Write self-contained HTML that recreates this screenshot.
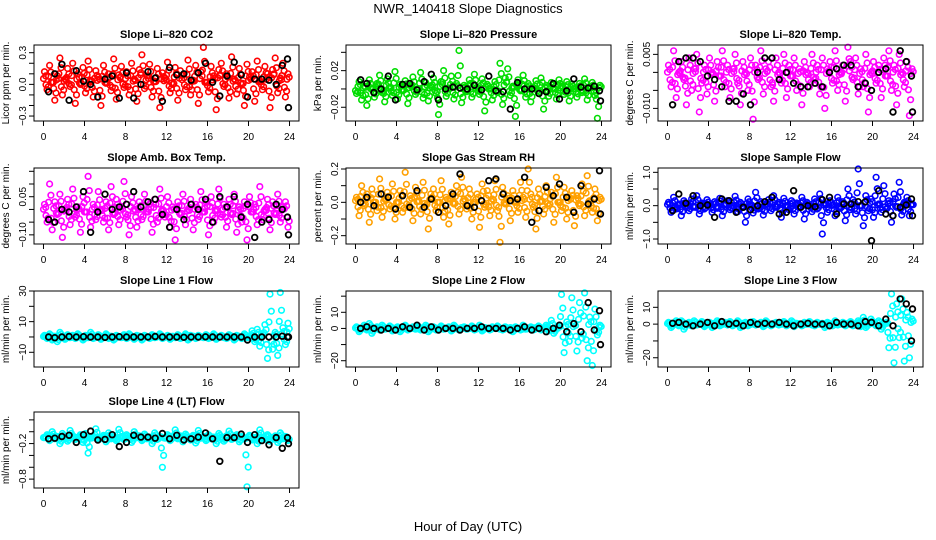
<!DOCTYPE html>
<html><head><meta charset="utf-8"><style>
html,body{margin:0;padding:0;background:#fff;}
svg{display:block;font-family:"Liberation Sans",sans-serif;}
</style></head><body>
<svg id="chart" width="936" height="540" viewBox="0 0 936 540">
<text x="468" y="13" text-anchor="middle" font-size="13">NWR_140418  Slope Diagnostics</text>
<text x="468" y="531" text-anchor="middle" font-size="13">Hour of Day (UTC)</text>
</svg>
<script>
const hours=[0.1,0.35,0.6,0.85,1.1,1.35,1.6,1.85,2.1,2.35,2.6,2.85,3.1,3.35,3.6,3.85,4.1,4.35,4.6,4.85,5.1,5.35,5.6,5.85,6.1,6.35,6.6,6.85,7.1,7.35,7.6,7.85,8.1,8.35,8.6,8.85,9.1,9.35,9.6,9.85,10.1,10.35,10.6,10.85,11.1,11.35,11.6,11.85,12.1,12.35,12.6,12.85,13.1,13.35,13.6,13.85,14.1,14.35,14.6,14.85,15.1,15.35,15.6,15.85,16.1,16.35,16.6,16.85,17.1,17.35,17.6,17.85,18.1,18.35,18.6,18.85,19.1,19.35,19.6,19.85,20.1,20.35,20.6,20.85,21.1,21.35,21.6,21.85,22.1,22.35,22.6,22.85,23.1,23.35,23.6,23.85];
const blackHours=[0.5,1.1,1.8,2.5,3.2,3.9,4.6,5.3,6.0,6.7,7.4,8.1,8.8,9.5,10.2,10.9,11.6,12.3,13.0,13.7,14.4,15.1,15.8,16.5,17.2,17.9,18.6,19.3,19.9,20.6,21.3,22.0,22.7,23.3,23.8,23.9];
const xTicks=[0,4,8,12,16,20,24];

const co2Vals=[0.12,-0.05,0.18,0.02,-0.15,0.08,0.25,-0.1,0.05,0.15,-0.02,0.2,-0.18,0.1,0.0,0.16,-0.08,0.22,0.04,-0.12,0.13,0.07,-0.2,0.18,0.01,0.1,-0.06,0.24,-0.14,0.09,0.17,-0.03,0.12,-0.1,0.2,0.05,-0.16,0.14,0.28,-0.04,0.08,0.19,-0.12,0.03,0.15,-0.22,0.11,0.06,0.21,-0.08,0.0,0.16,-0.15,0.13,0.09,-0.05,0.23,-0.1,0.04,0.18,-0.18,0.12,0.35,0.02,-0.07,0.17,0.08,-0.24,0.14,0.2,-0.02,0.1,-0.13,0.26,0.05,-0.09,0.15,0.0,-0.2,0.19,0.07,0.12,-0.16,0.22,0.03,-0.05,0.17,0.1,-0.22,0.14,0.25,-0.08,0.06,0.2,-0.12,0.1];
const co2Black=[-0.07,0.1,0.19,-0.15,0.13,0.03,0.0,-0.12,0.05,0.08,-0.13,0.11,-0.13,0.0,0.12,0.06,-0.16,0.16,0.09,0.1,0.04,0.11,0.2,0.02,-0.11,0.08,0.21,0.09,-0.12,0.05,0.05,0.04,0.0,0.18,0.24,-0.22];
const presVals=[-0.005,0.008,-0.012,0.003,-0.018,0.01,0.0,-0.009,0.006,0.015,-0.004,-0.014,0.011,0.002,-0.007,0.019,-0.011,0.005,-0.002,0.009,-0.016,0.004,0.013,-0.006,0.0,0.018,-0.01,0.007,-0.013,0.003,0.012,-0.005,-0.028,0.008,0.02,-0.008,0.001,0.014,-0.011,0.006,0.042,-0.015,0.004,-0.003,0.01,-0.009,0.016,0.002,-0.006,0.011,-0.024,0.005,0.0,-0.012,0.008,-0.004,0.028,-0.017,0.012,0.022,-0.007,0.003,-0.03,0.01,-0.002,0.015,-0.009,0.006,-0.014,0.001,0.009,-0.005,0.012,-0.022,0.004,-0.008,0.007,0.0,-0.011,0.01,0.003,-0.006,0.008,-0.013,0.005,0.0,-0.009,0.006,-0.004,0.011,-0.012,0.002,0.007,-0.007,-0.032,0.004];
const presBlack=[0.01,0.006,-0.004,0.0,0.014,-0.012,0.005,0.006,-0.001,0.008,0.016,-0.012,0.0,0.002,0.001,0.0,0.004,-0.001,0.014,-0.002,-0.003,-0.022,0.007,0.0,0.0,-0.005,-0.003,0.006,-0.011,-0.002,0.011,0.002,0.001,0.003,-0.002,-0.013];
const tempVals=[0.002,-0.004,0.006,-0.007,0.0,0.003,-0.002,-0.009,0.004,-0.005,0.001,0.005,-0.011,-0.003,0.002,-0.006,0.004,0.0,-0.008,0.003,-0.001,0.006,-0.004,0.002,-0.007,0.001,0.005,-0.003,-0.009,0.003,0.0,-0.005,0.004,-0.013,0.002,-0.002,0.006,-0.006,0.001,0.003,-0.004,-0.008,0.004,0.0,-0.003,0.005,-0.007,0.002,-0.001,0.004,-0.005,0.001,-0.009,0.003,0.0,-0.004,0.005,-0.002,0.002,-0.006,0.004,-0.010,0.001,0.003,-0.003,0.006,-0.005,0.0,0.002,-0.008,0.007,0.003,-0.002,0.004,-0.006,0.001,-0.004,0.005,-0.011,0.0,0.003,-0.003,0.002,-0.007,0.004,-0.001,0.006,-0.005,0.002,-0.009,0.005,0.0,-0.004,0.003,-0.012,0.001];
const tempBlack=[-0.009,0.003,0.004,0.004,0.003,-0.001,-0.002,-0.004,-0.008,-0.008,-0.006,-0.009,0.0,0.004,0.004,-0.002,0.0,-0.003,-0.004,-0.004,-0.003,-0.004,0.0,0.001,0.002,0.002,-0.004,-0.003,-0.005,0.0,0.001,-0.011,0.006,0.003,-0.001,-0.011];
const ambVals=[0.02,-0.05,0.1,-0.08,0.03,-0.02,0.06,-0.11,0.0,0.04,-0.06,0.08,-0.03,0.01,-0.09,0.05,-0.01,0.13,-0.07,0.02,-0.04,0.07,0.0,-0.05,0.03,-0.08,0.09,-0.02,0.04,-0.06,0.01,0.11,-0.03,-0.1,0.05,0.0,-0.07,0.03,-0.04,0.06,-0.01,0.02,-0.09,0.04,-0.05,0.08,0.0,-0.03,0.05,-0.07,0.01,-0.12,0.03,-0.02,0.06,-0.06,0.0,0.04,-0.08,0.02,-0.04,0.07,-0.01,0.03,-0.1,0.05,-0.05,0.0,0.08,-0.03,0.02,-0.07,0.04,-0.02,0.06,-0.09,0.01,-0.05,0.03,-0.12,0.05,-0.01,0.02,-0.06,0.09,-0.04,0.0,0.04,-0.08,0.03,-0.02,0.06,-0.05,0.01,0.03,-0.07];
const ambBlack=[-0.04,-0.05,0.0,-0.01,0.01,0.07,-0.09,-0.01,0.06,0.0,0.01,0.02,0.07,0.01,0.03,0.04,-0.02,-0.07,0.0,-0.04,0.02,0.0,0.04,-0.05,0.05,0.01,0.05,-0.03,0.02,-0.11,-0.05,-0.04,0.02,0.0,-0.03,-0.1];
const rhVals=[0.03,-0.08,0.1,-0.02,0.05,-0.12,0.08,0.0,-0.05,0.14,-0.09,0.02,0.06,-0.04,0.11,-0.1,0.0,0.07,-0.06,0.18,-0.03,0.04,-0.11,0.09,0.01,-0.07,0.12,-0.02,-0.16,0.05,0.08,-0.05,0.0,0.13,-0.09,0.03,-0.13,0.06,-0.01,0.1,-0.07,0.15,0.02,-0.04,0.08,-0.1,0.0,0.05,-0.15,0.11,-0.03,0.07,-0.08,0.02,0.13,-0.05,-0.24,0.09,-0.01,0.04,-0.11,0.07,0.0,-0.06,0.12,0.03,-0.09,0.2,0.05,-0.03,-0.16,0.08,0.01,-0.07,0.1,-0.02,0.06,-0.12,0.15,0.0,-0.05,0.09,-0.1,0.03,0.07,-0.14,0.04,-0.02,0.11,-0.08,0.16,0.01,-0.06,0.08,-0.11,0.03];
const rhBlack=[0.0,0.03,-0.02,0.05,0.03,-0.04,0.04,-0.03,0.07,-0.03,0.02,-0.06,-0.02,0.05,0.17,-0.02,-0.03,0.01,0.13,0.14,0.05,0.01,0.02,0.15,-0.12,-0.05,0.09,0.04,0.11,0.03,-0.06,0.1,-0.01,0.02,0.19,-0.07];
const sampVals=[0.1,-0.2,0.25,-0.1,0.05,-0.3,0.15,0.0,-0.15,0.2,-0.05,0.3,-0.25,0.08,-0.1,0.18,0.02,-0.2,0.12,-0.08,0.22,-0.3,0.05,0.15,-0.12,0.0,0.28,-0.18,0.1,-0.05,-0.5,0.2,0.03,-0.22,0.4,-0.1,0.12,-0.28,0.06,0.18,-0.15,0.3,-0.05,0.1,-0.35,0.22,0.0,-0.12,0.15,-0.25,0.08,-0.06,0.25,-0.4,0.1,0.0,-0.18,0.2,-0.1,0.35,-0.85,0.05,-0.2,0.15,0.02,-0.3,0.25,-0.08,0.12,-0.45,0.5,-0.12,0.18,-0.25,1.1,0.0,-0.6,0.3,-0.15,0.2,-0.35,0.85,0.05,-0.2,0.6,-0.1,0.15,-0.5,0.35,-0.05,0.7,-0.28,0.1,0.25,-0.3,0.05];
const sampBlack=[-0.15,0.35,0.07,0.3,0.0,0.02,-0.35,0.2,0.15,-0.2,-0.05,-0.12,0.0,0.12,0.25,-0.25,-0.2,0.45,-0.05,0.0,-0.03,0.18,0.25,-0.25,0.05,0.05,0.12,0.12,-1.05,0.45,-0.25,-0.3,-0.05,0.02,0.2,-0.3];
const line1Vals=[1,-1,2,-2,0.5,-3,3,0,-1.5,1.5,-0.5,1,-1,2,0,-2,1,-0.5,3,-1,0.5,1.5,-1.5,0,2,-1,0.5,-2,1,0,-0.5,1.5,-1,2,0,-1.5,1,0.5,-2,1,0,-1,1.5,-0.5,0.5,2,-1,0,1,-1.5,0.5,-0.5,1.5,-1,0,2,-2,1,0.5,-1,1,0,-0.5,1.5,-1,0.5,2,-1.5,0,1,-0.5,-1,1.5,0.5,-2,1,0,-1,2,-0.5,0.5,4,-3,5,-6,2,8,-14,28,-8,3,-12,29,6,-5,9];
const line1Black=[0,-0.5,0,0.3,0,0.2,0,0,-0.3,0,0.2,0,0,0,0,0.3,0,0,0,-0.2,0,0,0.1,0,0,0,0,0,-2,0,0,0,0,0.5,0,0];
const line2Vals=[1,-2,0,2,-1,3,-3,0,1,-1,2,-0.5,0,1.5,-1.5,0,1,-2,0.5,2,-1,0,1,-0.5,1.5,-1,0,2,-2,0.5,1,-1,0,1.5,-0.5,0,1,-1.5,2,0,-1,0.5,1,-0.5,0,1.5,-1,0,2,-1.5,0.5,0,-1,1,0,1.5,-0.5,-1,1,0,0.5,-2,1,0,-1,2,-0.5,0,1,-1,0.5,1.5,-1,0,2,-1.5,5,-3,0,2,21,-15,4,-8,19,3,-14,16,-6,22,-20,7,-23,12,-4,2];
const line2Black=[0,1,0,-1,0,-1,1,0,2,-1,1,-1,0,0,-1,0,0,1,0,0,0,-1,0,1,-1,0,-2,0,2,-2,3,-2,16,-1,11,-10];
const line3Vals=[1,-2,0,2,-1,2,-3,0,1,-1,2,-0.5,0,1.5,-1.5,0,1,-2,0.5,2,-1,0,1,-0.5,1.5,-1,0,2,-2,0.5,1,-1,0,1.5,-0.5,0,1,-1.5,2,0,-1,0.5,1,-0.5,0,1.5,-1,0,2,-1.5,0.5,0,-1,1,0,1.5,-0.5,-1,1,0,0.5,-2,1,0,-1,2,-0.5,0,1,-1,0.5,1.5,-1,0,2,-1.5,4,-2,0,3,1,-1,2,-3,0,1,-14,18,-23,12,-8,15,-22,7,-20,3];
const line3Black=[0.5,1,0,-1,0,1,-1,1.5,0,0.5,-1,1,0,0.5,0,1,0,-1,0,0.5,0,0,-1,1,0,0,-1,1.5,1,-1,3,-1,15,12,-10,9];
const line4Vals=[-0.1,-0.05,-0.15,0.0,-0.12,-0.08,-0.2,-0.03,-0.1,-0.16,0.02,-0.07,-0.13,-0.1,-0.05,-0.18,-0.03,-0.36,-0.11,-0.08,0.05,-0.14,-0.1,-0.06,-0.17,-0.02,-0.12,-0.09,-0.15,0.04,-0.08,-0.13,-0.05,-0.11,-0.18,0.0,-0.1,-0.07,-0.15,-0.04,-0.12,-0.09,-0.2,-0.02,-0.13,-0.08,-0.6,-0.11,-0.05,-0.15,-0.09,0.03,-0.12,-0.07,-0.17,-0.04,-0.1,-0.14,-0.06,-0.19,0.02,-0.11,-0.08,-0.15,-0.05,-0.12,-0.09,-0.2,-0.03,-0.1,-0.16,-0.07,0.01,-0.13,-0.1,-0.05,-0.17,-0.08,-0.12,-0.93,-0.06,-0.14,-0.1,-0.2,0.03,-0.09,-0.13,-0.05,-0.16,-0.1,-0.07,-0.18,-0.02,-0.12,-0.08,-0.15];
const line4Black=[-0.12,-0.11,-0.08,-0.06,-0.18,-0.05,0.01,-0.14,-0.13,-0.05,-0.25,-0.18,-0.06,-0.09,-0.09,-0.11,-0.03,-0.12,-0.06,-0.14,-0.12,-0.09,-0.02,-0.12,-0.5,-0.1,-0.1,-0.04,-0.18,-0.05,-0.15,-0.22,-0.1,-0.28,-0.1,-0.2];

const panels=[
 {name:'co2',title:'Slope Li\u2013820 CO2',ylab:'Licor ppm per min.',col:0,row:0,y0:-0.347,y1:0.373,center:0.02,ticks:[-0.3,-0.2,-0.1,0,0.1,0.2,0.3],labels:{'-0.3':'\u22120.3','0':'0.0','0.3':'0.3'},color:'#ff0000',vals:co2Vals,black:co2Black},
 {name:'pressure',title:'Slope Li\u2013820 Pressure',ylab:'kPa per min.',col:1,row:0,y0:-0.035,y1:0.048,center:0,ticks:[-0.02,0,0.02,0.04],labels:{'-0.02':'\u22120.02','0.02':'0.02'},color:'#00dd00',vals:presVals,black:presBlack},
 {name:'temp',title:'Slope Li\u2013820 Temp.',ylab:'degrees C per min.',col:2,row:0,y0:-0.0135,y1:0.0076,center:-0.001,ticks:[-0.01,-0.005,0,0.005],labels:{'-0.01':'\u22120.010','0.005':'0.005'},color:'#ff00ff',vals:tempVals,black:tempBlack},
 {name:'amb-box-temp',title:'Slope Amb. Box Temp.',ylab:'degrees C per min.',col:0,row:1,y0:-0.136,y1:0.163,center:-0.01,ticks:[-0.1,-0.05,0,0.05,0.1,0.15],labels:{'-0.1':'\u22120.10','0.05':'0.05'},color:'#ff00ff',vals:ambVals,black:ambBlack},
 {name:'gas-rh',title:'Slope Gas Stream RH',ylab:'percent per min.',col:1,row:1,y0:-0.25,y1:0.206,center:0,ticks:[-0.2,-0.1,0,0.1,0.2],labels:{'-0.2':'\u22120.2','0':'0.0','0.2':'0.2'},color:'#ffa000',vals:rhVals,black:rhBlack},
 {name:'sample-flow',title:'Slope Sample Flow',ylab:'ml/min per min.',col:2,row:1,y0:-1.15,y1:1.13,center:0,ticks:[-1,-0.5,0,0.5,1],labels:{'-1':'\u22121.0','0':'0.0','1':'1.0'},color:'#0000ff',vals:sampVals,black:sampBlack},
 {name:'line1-flow',title:'Slope Line 1 Flow',ylab:'ml/min per min.',col:0,row:2,y0:-19.6,y1:30,center:0,ticks:[-10,0,10,20,30],labels:{'-10':'\u221210','10':'10','30':'30'},color:'#00ffff',vals:line1Vals,black:line1Black},
 {name:'line2-flow',title:'Slope Line 2 Flow',ylab:'ml/min per min.',col:1,row:2,y0:-23.9,y1:23.2,center:0,ticks:[-20,-10,0,10,20],labels:{'-20':'\u221220','0':'0','10':'10'},color:'#00ffff',vals:line2Vals,black:line2Black},
 {name:'line3-flow',title:'Slope Line 3 Flow',ylab:'ml/min per min.',col:2,row:2,y0:-25.5,y1:19.7,center:0,ticks:[-20,-10,0,10],labels:{'-20':'\u221220','0':'0','10':'10'},color:'#00ffff',vals:line3Vals,black:line3Black},
 {name:'line4-flow',title:'Slope Line 4 (LT) Flow',ylab:'ml/min per min.',col:0,row:3,y0:-0.95,y1:0.333,center:-0.1,ticks:[-0.8,-0.6,-0.4,-0.2,0,0.2],labels:{'-0.8':'\u22120.8','-0.2':'\u22120.2'},color:'#00ffff',vals:line4Vals,black:line4Black}
];

const svg=document.getElementById('chart');
const NS='http://www.w3.org/2000/svg';
const boxLefts=[34,346,658], boxW=265;
const boxTops=[45,168,291,412], boxH=76;
function mk(tag,attrs,parent){const e=document.createElementNS(NS,tag);for(const k in attrs)e.setAttribute(k,attrs[k]);parent.appendChild(e);return e;}

panels.forEach(p=>{
  const L=boxLefts[p.col], T=boxTops[p.row], B=T+boxH;
  const xScale=h=>L+(h+0.925)/25.85*boxW;
  const yScale=v=>B-(v-p.y0)/(p.y1-p.y0)*boxH;
  const g=mk('g',{},svg);
  
  
  const t=mk('text',{x:L+boxW/2,y:T-7,'text-anchor':'middle','font-size':'11','font-weight':'bold'},g);
  t.textContent=p.title;
  
  
  const yl=mk('text',{x:0,y:0,'text-anchor':'middle','font-size':'10',transform:'translate('+(L-25)+','+(T+boxH/2)+') rotate(-90)'},g);
  yl.textContent=p.ylab;
  
  
  const cg=mk('g',{fill:'none',stroke:p.color,'stroke-width':'1.6'},g);
  
  
  // each sample drawn with its near neighbours (dense cloud), pulled toward the panel centre
  const offs=[[0,1],[0.12,0.6],[-0.1,0.35]];
  p.vals.forEach((v,i)=>{
    if(hours[i]===undefined)return;
    offs.forEach(o=>{
      const vv=p.center+(v-p.center)*o[1];
      const y=yScale(vv); if(y<T-1||y>B+1)return;
      const c=mk('circle',{cx:xScale(hours[i]+o[0]).toFixed(1),cy:y.toFixed(1),r:'2.8'},cg);
      
      
    });
  });
  const bg=mk('g',{fill:'none',stroke:'#000','stroke-width':'1.8'},g);
  
  
  p.black.forEach((v,i)=>{
    if(blackHours[i]===undefined)return;
    const y=yScale(v); if(y<T-1||y>B+1)return;
    const c=mk('circle',{cx:xScale(blackHours[i]).toFixed(1),cy:y.toFixed(1),r:'2.8'},bg);
    
    
  });
  const box=mk('rect',{x:L,y:T,width:boxW,height:boxH,fill:'none',stroke:'#000','stroke-width':'1'},g);
  
  
  xTicks.forEach(h=>{
    const x=xScale(h);
    const tk=mk('line',{x1:x,x2:x,y1:B,y2:B+5,stroke:'#000'},g);
    
    
    const tl=mk('text',{x:x,y:B+19,'text-anchor':'middle','font-size':'10'},g);
    tl.textContent=h;
    
    
  });
  p.ticks.forEach(v=>{
    const y=yScale(v);
    const tk=mk('line',{x1:L-5,x2:L,y1:y,y2:y,stroke:'#000'},g);
    
    
    const key=String(v);
    if(p.labels[key]!==undefined){
      const tl=mk('text',{x:0,y:0,'text-anchor':'middle','font-size':'10',transform:'translate('+(L-8)+','+y+') rotate(-90)'},g);
      tl.textContent=p.labels[key];
      
      
    }
  });
});
</script>
</body></html>
